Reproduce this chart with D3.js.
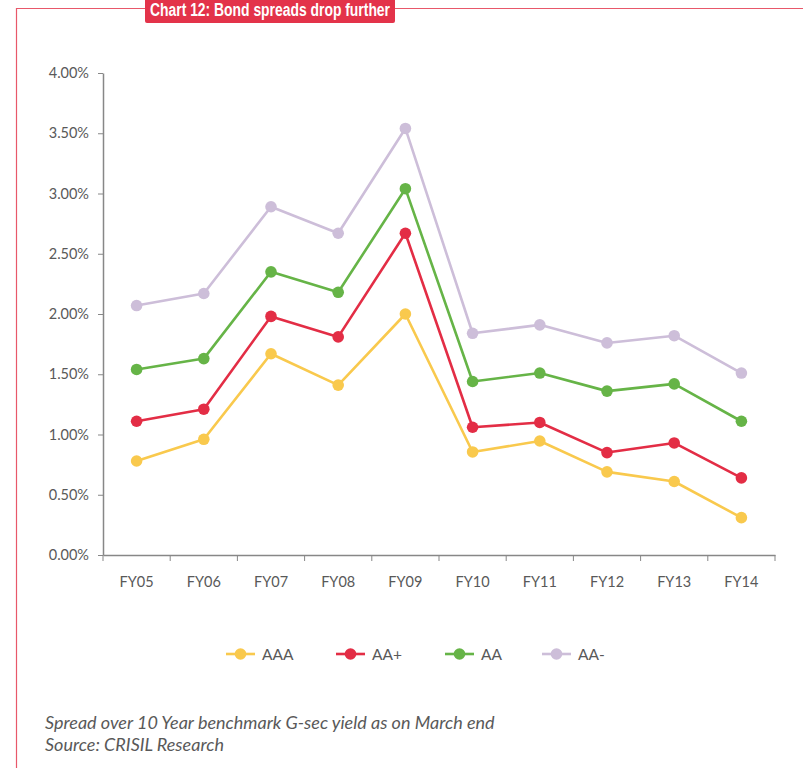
<!DOCTYPE html>
<html>
<head>
<meta charset="utf-8">
<script src="https://cdn.jsdelivr.net/npm/d3@7"></script>
<style>
  body { margin: 0; background: #fff; }
  svg { display: block; }
</style>
</head>
<body>
<svg id="chart" width="803" height="768"></svg>
<script>
// Fiscal years on the x axis
const categories = ["FY05", "FY06", "FY07", "FY08", "FY09", "FY10", "FY11", "FY12", "FY13", "FY14"];

// Spread over 10-year G-sec, in percent
const aaa    = [0.78, 0.96, 1.67, 1.41, 2.00, 0.855, 0.946, 0.69, 0.61, 0.31];
const aaPlus = [1.11, 1.21, 1.98, 1.81, 2.67, 1.06, 1.10, 0.85, 0.93, 0.64];
const aa     = [1.54, 1.63, 2.35, 2.18, 3.04, 1.44, 1.51, 1.36, 1.42, 1.11];
const aaMin  = [2.07, 2.17, 2.89, 2.67, 3.54, 1.84, 1.91, 1.76, 1.82, 1.51];

const seriesNames  = ["AAA", "AA+", "AA", "AA-"];
const seriesColors = ["#F9C94D", "#E32D45", "#66B447", "#CDBED9"];
const yTicks = [0, 0.5, 1, 1.5, 2, 2.5, 3, 3.5, 4];

const series = [aaa, aaPlus, aa, aaMin].map((vals, i) => ({
  name: seriesNames[i], color: seriesColors[i], values: vals
}));

const svg = d3.select("#chart");
const font = "Lato, 'Open Sans', sans-serif";
const textGray = "#595959";
const axisGray = "#878787";

// Frame
svg.append("path")
  .attr("d", "M16.5,768 L16.5,8.5 L803,8.5")
  .attr("fill", "none").attr("stroke", "#E8586A").attr("stroke-width", 1.2);

// Title badge
svg.append("rect")
  .attr("x", 145).attr("y", -6).attr("width", 250).attr("height", 29)
  .attr("rx", 2).attr("fill", "#E3334A");
svg.append("text")
  .attr("x", 150).attr("y", 15.5)
  .attr("textLength", 240).attr("lengthAdjust", "spacingAndGlyphs")
  .attr("font-family", "'Liberation Sans', Arial, sans-serif")
  .attr("font-weight", "bold").attr("font-size", 17.5)
  .attr("fill", "#fff")
  .text("Chart 12: Bond spreads drop further");

// Scales
const x = d3.scaleBand().domain(categories).range([103, 775]);
const y = d3.scaleLinear().domain([0, 4]).range([555, 73]);

// Y axis
const yAxis = svg.append("g").attr("transform", "translate(103,0)")
  .call(d3.axisLeft(y).tickValues(yTicks).tickSize(5).tickSizeOuter(0)
    .tickFormat(d => d.toFixed(2) + "%"));
yAxis.select(".domain").attr("stroke", axisGray).attr("stroke-width", 1.5);
yAxis.selectAll(".tick line").attr("stroke", axisGray);
yAxis.selectAll(".tick text").attr("fill", textGray)
  .attr("font-family", font).attr("font-size", 14.5).attr("x", -14);

// X axis with ticks at band boundaries
const xAxis = svg.append("g").attr("transform", "translate(0,555)")
  .call(d3.axisBottom(x).tickSize(0).tickSizeOuter(0));
xAxis.select(".domain").attr("stroke", axisGray).attr("stroke-width", 1.5);
xAxis.selectAll(".tick text").attr("fill", textGray)
  .attr("font-family", font).attr("font-size", 14.5).attr("y", 22);
const bounds = categories.map(c => x(c)).concat([x.range()[1]]);
xAxis.selectAll("line.bound").data(bounds).join("line")
  .attr("class", "bound")
  .attr("x1", d => d).attr("x2", d => d)
  .attr("y1", 0).attr("y2", 6)
  .attr("stroke", axisGray).attr("stroke-width", 1);

// Lines and markers
const cx = c => x(c) + x.bandwidth() / 2;
const line = d3.line().x((d, i) => cx(categories[i])).y(d => y(d));

const g = svg.append("g");
series.forEach(s => {
  g.append("path").attr("d", line(s.values))
    .attr("fill", "none").attr("stroke", s.color).attr("stroke-width", 2.6)
    .attr("stroke-linejoin", "round");
  g.selectAll(null).data(s.values).join("circle")
    .attr("cx", (d, i) => cx(categories[i]))
    .attr("cy", d => y(d))
    .attr("r", 5.8)
    .attr("fill", s.color);
});

// Legend
const legendX = [226, 336, 445, 542];
const legend = svg.append("g").attr("transform", "translate(0,654)");
series.forEach((s, i) => {
  const lx = legendX[i];
  legend.append("line").attr("x1", lx).attr("x2", lx + 29)
    .attr("y1", 0).attr("y2", 0)
    .attr("stroke", s.color).attr("stroke-width", 2.6);
  legend.append("circle").attr("cx", lx + 14.5).attr("cy", 0).attr("r", 5.8)
    .attr("fill", s.color);
  legend.append("text").attr("x", lx + 36).attr("y", 5.5)
    .attr("font-family", font).attr("font-size", 15.5).attr("fill", textGray)
    .text(s.name);
});

// Notes
const notes = ["Spread over 10 Year benchmark G-sec yield as on March end",
               "Source: CRISIL Research"];
svg.selectAll("text.note").data(notes).join("text")
  .attr("class", "note")
  .attr("x", 45).attr("y", (d, i) => 729 + i * 22)
  .attr("font-family", font).attr("font-style", "italic")
  .attr("font-size", 18).attr("fill", textGray)
  .text(d => d);
</script>
</body>
</html>
